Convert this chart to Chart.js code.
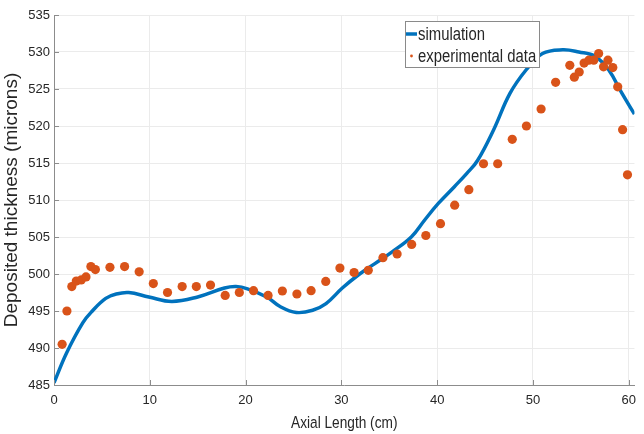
<!DOCTYPE html>
<html><head><meta charset="utf-8">
<script src="https://cdn.jsdelivr.net/npm/chart.js@4.4.0/dist/chart.umd.min.js"></script>
<style>html,body{margin:0;padding:0;background:#fff;}#wrap{width:644px;height:434px;}</style>
</head><body><div id="wrap"><canvas id="c" width="644" height="434"></canvas></div>
<script>
// Simulation curve (Axial length cm, thickness microns)
const simX = [0, 1.3, 3.0, 4.0, 5.4, 6.5, 7.8, 9.9, 12.3, 15.0, 17.8, 19.0, 20.2, 22.2, 23.6, 25.3, 27.0, 28.4, 30.1, 31.8, 33.5, 35.3, 37.3, 38.7, 40.1, 41.8, 43.1, 44.2, 45.9, 47.6, 49.3, 51.0, 53.1, 54.8, 56.5, 57.9, 59.3, 60.6];
const simY = [485.3, 489.3, 493.4, 495.0, 496.7, 497.3, 497.5, 496.9, 496.3, 496.9, 498.1, 498.3, 498.0, 496.9, 495.6, 494.8, 495.1, 496.0, 498.1, 499.9, 501.4, 503.0, 505.0, 507.3, 509.5, 511.8, 513.6, 515.3, 519.5, 524.4, 527.6, 529.8, 530.3, 530.0, 529.4, 527.6, 524.4, 521.6];
// Experimental data
const expX = [0.85, 1.35, 1.86, 2.33, 2.84, 3.34, 3.85, 4.32, 5.84, 7.37, 8.89, 10.37, 11.85, 13.38, 14.86, 16.34, 17.87, 19.35, 20.83, 22.35, 23.84, 25.36, 26.84, 28.37, 29.85, 31.33, 32.81, 34.34, 35.82, 37.34, 38.82, 40.35, 41.83, 43.31, 44.84, 46.32, 47.84, 49.32, 50.85, 52.37, 53.85, 54.32, 54.83, 55.34, 55.84, 56.35, 56.86, 57.37, 57.83, 58.34, 58.85, 59.36, 59.87];
const expY = [490.5, 495.0, 498.3, 499.05, 499.2, 499.6, 501.0, 500.6, 500.9, 501.0, 500.3, 498.7, 497.5, 498.3, 498.3, 498.5, 497.1, 497.5, 497.75, 497.1, 497.7, 497.3, 497.75, 499.0, 500.8, 500.2, 500.5, 502.2, 502.7, 504.0, 505.2, 506.8, 509.3, 511.4, 514.9, 514.9, 518.2, 520.0, 522.3, 525.9, 528.2, 526.6, 527.3, 528.5, 528.9, 528.9, 529.8, 528.0, 528.9, 527.9, 525.3, 519.5, 513.4];
const xTicks = [0, 10, 20, 30, 40, 50, 60];
const yTicks = [485, 490, 495, 500, 505, 510, 515, 520, 525, 530, 535];
const seriesNames = ['simulation', 'experimental data'];
const xTitle = 'Axial Length (cm)';
const yTitle = 'Deposited thickness (microns)';

const BLUE = '#0072BD', ORANGE = '#D95319';
const TEXT = '#262626';
const FONT = '"Liberation Sans", Arial, Helvetica, sans-serif';

// narrow text helper (Helvetica-condensed look of the original)
function narrowText(ctx, text, x, y, size, sx, align) {
  ctx.save();
  ctx.translate(x, y);
  ctx.scale(sx, 1);
  ctx.font = size + 'px ' + FONT;
  ctx.textAlign = align;
  ctx.textBaseline = 'alphabetic';
  ctx.fillStyle = TEXT;
  ctx.fillText(text, 0, 0);
  ctx.restore();
}

const legendPlugin = {
  id: 'boxLegend',
  afterDraw(chart) {
    const ctx = chart.ctx;
    ctx.save();
    const bx = 405, by = 21, bw = 134, bh = 46;
    ctx.fillStyle = '#fff';
    ctx.fillRect(bx, by, bw, bh);
    ctx.strokeStyle = '#8a8a8a';
    ctx.lineWidth = 1;
    ctx.strokeRect(bx + 0.5, by + 0.5, bw, bh);
    ctx.strokeStyle = BLUE; ctx.lineWidth = 3.5;
    ctx.beginPath(); ctx.moveTo(406, 34); ctx.lineTo(417, 34); ctx.stroke();
    narrowText(ctx, seriesNames[0], 418, 40, 17.5, 0.85, 'left');
    ctx.fillStyle = ORANGE;
    ctx.beginPath(); ctx.arc(411.5, 56, 1.4, 0, Math.PI * 2); ctx.fill();
    narrowText(ctx, seriesNames[1], 418, 62, 17.5, 0.85, 'left');
    ctx.restore();
  }
};

const axisTitleX = {
  id: 'axisTitleX',
  afterDraw(chart) {
    const a = chart.chartArea;
    narrowText(chart.ctx, xTitle, (a.left + a.right) / 2, 428, 16.3, 0.84, 'center');
  }
};

const tickMarks = {
  id: 'tickMarks',
  afterDatasetsDraw(chart) {
    const ctx = chart.ctx, a = chart.chartArea;
    const xs = chart.scales.x, ys = chart.scales.y;
    ctx.save();
    ctx.strokeStyle = '#8c8c8c'; ctx.lineWidth = 1;
    ctx.beginPath();
    xTicks.forEach(v => { const p = Math.round(xs.getPixelForValue(v)) + 0.5; ctx.moveTo(p, a.bottom); ctx.lineTo(p, a.bottom - 5); });
    yTicks.forEach(v => { const p = Math.round(ys.getPixelForValue(v)) + 0.5; ctx.moveTo(a.left, p); ctx.lineTo(a.left + 5, p); });
    ctx.stroke();
    ctx.restore();
  }
};

new Chart(document.getElementById('c'), {
  type: 'scatter',
  data: {
    datasets: [
      {
        label: seriesNames[1],
        data: expX.map((x, i) => ({x, y: expY[i]})),
        backgroundColor: ORANGE, borderColor: ORANGE,
        pointRadius: 4.6, pointBorderWidth: 0, showLine: false, order: 0
      },
      {
        label: seriesNames[0],
        data: simX.map((x, i) => ({x, y: simY[i]})),
        borderColor: BLUE, backgroundColor: BLUE,
        borderWidth: 3.5, pointRadius: 0, showLine: true, tension: 0.4, order: 1
      }
    ]
  },
  options: {
    responsive: false, animation: false, devicePixelRatio: 1,
    layout: {padding: {left: 0, right: 2, top: 15, bottom: 0}},
    plugins: {legend: {display: false}, tooltip: {enabled: false}},
    scales: {
      x: {
        type: 'linear', min: 0, max: 60.6,
        afterBuildTicks: s => { s.ticks = xTicks.map(v => ({value: v})); },
        afterFit: s => { s.height = 49; },
        grid: {color: '#ebebeb', drawTicks: false},
        border: {display: true, color: '#8c8c8c'},
        ticks: {padding: 8, color: TEXT, font: {family: FONT, size: 13}, maxRotation: 0},
        title: {display: false, text: xTitle}
      },
      y: {
        type: 'linear', min: 485, max: 535,
        afterBuildTicks: s => { s.ticks = yTicks.map(v => ({value: v})); },
        afterFit: s => { s.width = 54; },
        grid: {color: '#ebebeb', drawTicks: false},
        border: {display: true, color: '#8c8c8c'},
        ticks: {padding: 4, color: TEXT, font: {family: FONT, size: 13}},
        title: {display: true, text: yTitle, color: TEXT, padding: {top: 0, bottom: 0}, font: {family: FONT, size: 19}}
      }
    }
  },
  plugins: [tickMarks, legendPlugin, axisTitleX]
});
</script>
</body></html>
